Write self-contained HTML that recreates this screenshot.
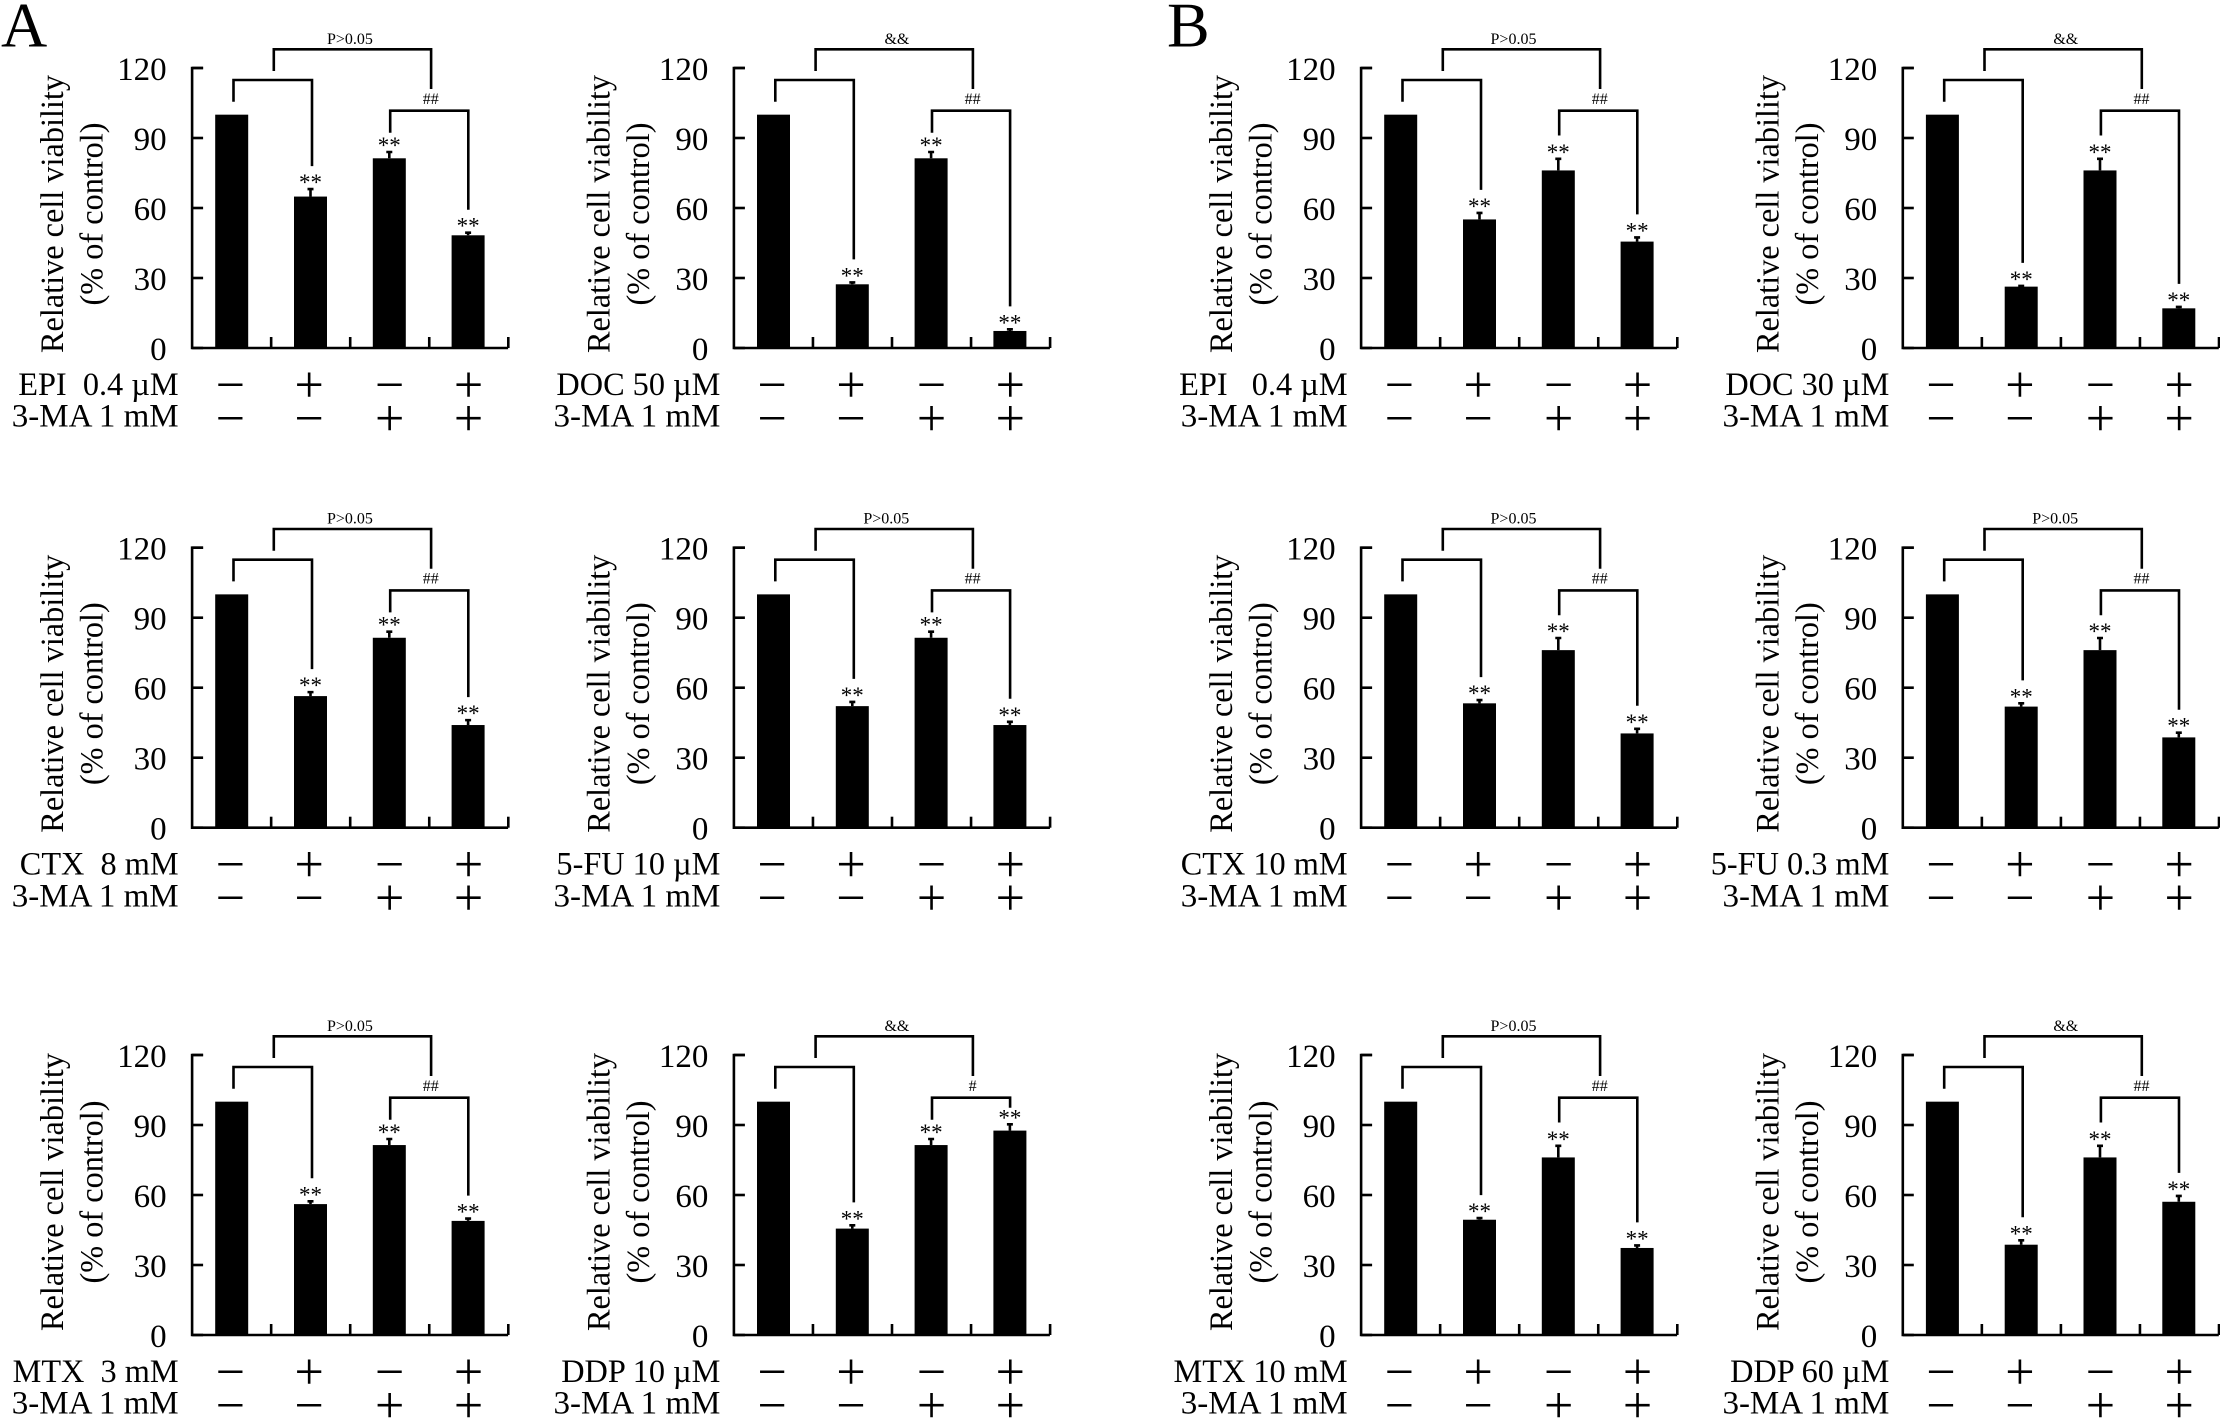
<!DOCTYPE html>
<html lang="en">
<head>
<meta charset="utf-8">
<title>Relative cell viability panels</title>
<style>
html,body{margin:0;padding:0;background:#fff;width:2220px;height:1418px;overflow:hidden}
svg{display:block}
text{font-family:"Liberation Serif","Noto Serif CJK SC",serif;fill:#000;white-space:pre}
.tick{font-size:33px;text-anchor:end}
.ytitle{font-size:32.3px;text-anchor:middle}
.rowlabel{font-size:32.3px;text-anchor:end}
.rowlabel2{font-size:33px;text-anchor:end}
.sign{font-size:52px;text-anchor:middle}
.stars{font-size:23px;text-anchor:middle}
.note{font-size:16px;text-anchor:middle}
.letter{font-size:64px}
.line{fill:none;stroke:#000;stroke-width:2.6}
</style>
</head>
<body>
<svg id="figure" xmlns="http://www.w3.org/2000/svg" width="2220" height="1418" viewBox="0 0 2220 1418">
  <rect width="2220" height="1418" fill="#fff"/>
  <text class="letter" x="1" y="46.7">A</text>
  <text class="letter" x="1167" y="46.7">B</text>
</svg>
<script>
// ---- chart data ----
const yTicks = [0, 30, 60, 90, 120];
const yMax = 120;
const titleLine1 = 'Relative cell viability';
const titleLine2 = '(% of control)';
const drugSigns = ['\u2212', '+', '\u2212', '+'];
const inhibitorSigns = ['\u2212', '\u2212', '+', '+'];
const inhibitorLabel = '3-MA 1 mM';

// panels run column by column within each row: A-left, A-right, B-left, B-right
const drugLabels = [
  'EPI\u00a0\u00a00.4 \u00b5M', 'DOC 50 \u00b5M', 'EPI\u00a0\u00a0\u00a00.4 \u00b5M', 'DOC 30 \u00b5M',
  'CTX\u00a0\u00a08 mM', '5-FU 10 \u00b5M', 'CTX 10 mM', '5-FU 0.3 mM',
  'MTX\u00a0\u00a03 mM', 'DDP 10 \u00b5M', 'MTX 10 mM', 'DDP 60 \u00b5M'
];
const barValues = [
  [100, 64.9, 81.3, 48.3], [100, 27.3, 81.3, 7.3], [100, 55.1, 76.1, 45.6], [100, 26.3, 76.1, 17],
  [100, 56.4, 81.4, 44], [100, 52.1, 81.4, 44], [100, 53.3, 76.1, 40.4], [100, 51.9, 76.1, 38.7],
  [100, 56.1, 81.4, 48.9], [100, 45.6, 81.4, 87.6], [100, 49.4, 76.1, 37.3], [100, 38.7, 76.1, 57.1]
];
const barErrors = [
  [0, 3.2, 2.7, 1.1], [0, 0.8, 2.7, 0.7], [0, 2.8, 5, 1.8], [0, 0.3, 5, 0.6],
  [0, 1.7, 2.6, 2.1], [0, 1.8, 2.6, 1.4], [0, 1.4, 5.2, 2], [0, 1.4, 5.2, 2],
  [0, 1.2, 2.6, 1], [0, 1.4, 2.6, 2.7], [0, 0.7, 5, 1.1], [0, 1.9, 5, 2.5]
];
const topNotes = [
  'P>0.05', '&&', 'P>0.05', '&&',
  'P>0.05', 'P>0.05', 'P>0.05', 'P>0.05',
  'P>0.05', '&&', 'P>0.05', '&&'
];
const pairNotes = [
  '##', '##', '##', '##',
  '##', '##', '##', '##',
  '##', '#', '##', '##'
];

// ---- layout ----
const colAxis = [192.1, 733.9, 1361.1, 1902.8];
const rowBase = [348, 827.7, 1335];
const plotH = 280;
const svg = document.getElementById('figure');
const NS = 'http://www.w3.org/2000/svg';

function make(tag, parent, attrs, text) {
  const el = document.createElementNS(NS, tag);
  for (const k in attrs) el.setAttribute(k, attrs[k]);
  if (text !== undefined) el.textContent = text;
  parent.appendChild(el);
  return el;
}

function drawPanel(index) {
  const col = index % 4;
  const row = Math.floor(index / 4);
  const ax = colAxis[col];
  const base = rowBase[row];
  const yScale = v => base - v * plotH / yMax;
  const xScale = i => ax + 39.6 + 78.8 * i;
  const signX = i => xScale(i) + (i < 2 ? -1.3 : 0.4);
  const values = barValues[index];
  const errors = barErrors[index];
  const errTop = i => yScale(values[i] + errors[i]);

  const g = make('g', svg, {});
  
  

  // y axis title
  const titleShift = col % 2 === 0 ? 129 : 124.5;
  const titleY = row === 2 ? base - 143 : base - 134;
  const t1 = make('text', g, {class: 'ytitle', transform: `translate(${ax - titleShift},${titleY}) rotate(-90)`}, titleLine1);
  
  
  const t2 = make('text', g, {class: 'ytitle', transform: `translate(${ax - titleShift + 39.6},${titleY}) rotate(-90)`}, titleLine2);
  
  

  // bars and error bars
  values.forEach((v, i) => {
    const bar = make('rect', g, {x: xScale(i) - 16.5, y: yScale(v), width: 33, height: base - yScale(v), fill: '#000'});
    
    
    if (errors[i] > 0) {
      const x = xScale(i);
      const err = make('path', g, {class: 'line', d: `M${x} ${yScale(v)}V${errTop(i)}M${x - 3} ${errTop(i)}H${x + 3}`});
      
      
      const stars = make('text', g, {class: 'stars', x: x, y: errTop(i) + 1}, '**');
      
      
    }
  });

  // axes
  const axis = make('path', g, {class: 'line', d: `M${ax + 11} ${yScale(yMax)}H${ax}V${base}H${ax + 316}`});
  
  
  yTicks.forEach(t => {
    const mark = make('line', g, {class: 'line', x1: ax, x2: ax + 11, y1: yScale(t), y2: yScale(t)});
    
    
    const label = make('text', g, {class: 'tick', x: ax - 25.5, y: yScale(t) + 12}, String(t));
    
    
  });
  values.forEach((v, i) => {
    const x = ax + 79.05 * (i + 1);
    const mark = make('line', g, {class: 'line', x1: x, x2: x, y1: base, y2: base - 11});
    
    
  });

  // brackets
  const lowLeg = col < 2 ? 215.3 : 212.5;
  const y1 = base - 268;
  const firstLeg = errTop(1) - 23;
  const b1 = make('path', g, {class: 'line', d: `M${ax + 41.4} ${base - 246.3}V${y1}H${ax + 119.9}V${firstLeg}`});
  
  

  const y2 = base - 237.3;
  const secondLeg = Math.max(errTop(3) - 23, y2 + 10);
  const b2 = make('path', g, {class: 'line', d: `M${ax + 198.1} ${base - lowLeg}V${y2}H${ax + 276.2}V${secondLeg}`});
  
  

  const y3 = base - 298.7;
  const b3 = make('path', g, {class: 'line', d: `M${ax + 81.7} ${base - 277}V${y3}H${ax + 239}V${base - 259}`});
  
  

  const note = topNotes[index];
  const noteX = note === '&&' ? ax + 163 : (col === 0 ? ax + 157.8 : ax + 152.4);
  const topNote = make('text', g, {class: 'note', x: noteX, y: base - 304}, note);
  
  
  const pairNote = make('text', g, {class: 'note', x: ax + 238.7, y: base - 244}, pairNotes[index]);
  
  

  // treatment rows
  const rl1 = make('text', g, {class: 'rowlabel', x: ax - 13.5, y: base + 47}, drugLabels[index]);
  
  
  const rl2 = make('text', g, {class: 'rowlabel2', x: ax - 13.5, y: base + 78.7}, inhibitorLabel);
  
  
  drugSigns.forEach((s, i) => {
    const el = make('text', g, {class: 'sign', x: signX(i), y: base + 54}, s);
    
    
  });
  inhibitorSigns.forEach((s, i) => {
    const el = make('text', g, {class: 'sign', x: signX(i), y: base + 87.5}, s);
    
    
  });
}

barValues.forEach((v, i) => drawPanel(i));
</script>
</body>
</html>
